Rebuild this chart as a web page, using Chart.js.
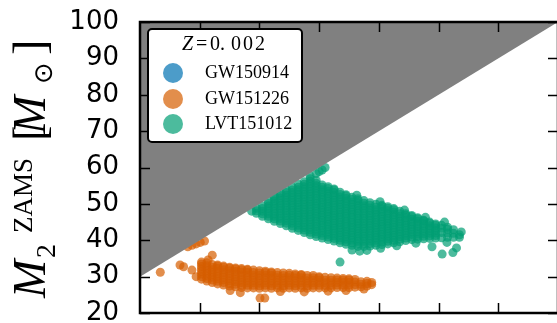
<!DOCTYPE html>
<html>
<head>
<meta charset="utf-8">
<script src="https://cdn.jsdelivr.net/npm/chart.js@4.4.1/dist/chart.umd.min.js"></script>
<style>
  html, body { margin: 0; padding: 0; background: #fff; overflow: hidden; }
</style>
</head>
<body>
<canvas id="massChart" width="562" height="323"></canvas>
<script>
// M2 (ZAMS) vs M1 (ZAMS) for the three events at Z = 0.002

const xRange = [30, 100];
const yRange = [20, 100];
const xTicks = [40, 50, 60, 70, 80, 90];
const yTicks = [20, 30, 40, 50, 60, 70, 80, 90, 100];

const seriesLabels = ['GW150914', 'GW151226', 'LVT151012'];
const seriesColors = ['rgba(0,114,178,0.7)', 'rgba(213,94,0,0.7)', 'rgba(0,158,115,0.7)'];

// M2 > M1 is excluded: shaded above the line M2 = M1
const equalMassLine = [[30, 30], [100, 100]];

// no samples for GW150914 at this metallicity
const gw150914 = [];

// GW151226 samples, one column per M1 value: [M1, [M2, ...]]
const gw151226Columns = [
  [40.3, [29.3, 30.0, 30.7, 31.4, 32.1, 32.8, 33.5, 34.0]],
  [41.2, [28.8, 29.5, 30.2, 30.9, 31.6, 32.3, 33.0, 33.8]],
  [42.1, [28.4, 29.1, 29.8, 30.5, 31.2, 31.9, 32.6, 33.3]],
  [43.0, [28.0, 28.7, 29.4, 30.1, 30.8, 31.5, 32.2, 32.9, 33.2]],
  [44.0, [27.7, 28.4, 29.1, 29.8, 30.5, 31.2, 31.9, 32.6, 32.9]],
  [45.0, [27.4, 28.1, 28.8, 29.5, 30.2, 30.9, 31.6, 32.3, 32.6]],
  [46.0, [27.2, 27.9, 28.6, 29.3, 30.0, 30.7, 31.4, 32.1, 32.4]],
  [47.0, [27.0, 27.7, 28.4, 29.1, 29.8, 30.5, 31.2, 31.9, 32.2]],
  [48.0, [26.9, 27.6, 28.3, 29.0, 29.7, 30.4, 31.1, 31.8, 32.0]],
  [49.0, [26.9, 27.6, 28.3, 29.0, 29.7, 30.4, 31.1, 31.8]],
  [50.0, [26.8, 27.5, 28.2, 28.9, 29.6, 30.3, 31.0, 31.6]],
  [51.0, [26.9, 27.6, 28.3, 29.0, 29.7, 30.4, 31.1, 31.5]],
  [52.0, [26.8, 27.5, 28.2, 28.9, 29.6, 30.3, 31.0, 31.3]],
  [53.0, [26.9, 27.6, 28.3, 29.0, 29.7, 30.4, 31.1]],
  [54.0, [26.8, 27.5, 28.2, 28.9, 29.6, 30.3, 31.0]],
  [55.0, [26.9, 27.6, 28.3, 29.0, 29.7, 30.4, 30.9]],
  [56.0, [26.8, 27.5, 28.2, 28.9, 29.6, 30.3, 30.7]],
  [57.0, [26.9, 27.6, 28.3, 29.0, 29.7, 30.4, 30.6]],
  [58.0, [26.8, 27.5, 28.2, 28.9, 29.6, 30.3]],
  [59.0, [26.9, 27.6, 28.3, 29.0, 29.7, 30.3]],
  [60.0, [26.9, 27.6, 28.3, 29.0, 29.7, 30.0]],
  [61.0, [26.9, 27.6, 28.3, 29.0, 29.8]],
  [62.0, [26.9, 27.6, 28.3, 29.0, 29.7]],
  [63.0, [27.0, 27.7, 28.4, 29.1, 29.6]],
  [64.0, [27.0, 27.7, 28.4, 29.1, 29.5]],
  [65.0, [27.0, 27.7, 28.4, 29.1, 29.4]],
  [66.0, [27.1, 27.8, 28.5, 29.2]],
  [67.0, [27.2, 27.9, 28.6]],
  [68.0, [27.4, 28.1, 28.7]],
  [68.8, [27.8, 28.4]]
];
const gw151226Extra = [
  [33.4, 31.2], [36.7, 33.2], [37.3, 32.7], [38.7, 31.8], [39.4, 30.0],
  [41.4, 34.6], [42.1, 35.9], [45.1, 26.2], [46.8, 25.6], [50.1, 24.1],
  [50.9, 24.1], [53.5, 25.9], [57.5, 25.8], [61.5, 26.0], [64.5, 26.2],
  [67.5, 26.6], [38.0, 38.2], [38.7, 38.6], [39.4, 39.0], [40.1, 39.4],
  [40.8, 39.8]
];

// LVT151012 samples, same layout
const lvt151012Columns = [
  [48.7, [48.0]],
  [49.5, [47.4, 48.1, 48.8]],
  [50.5, [46.6, 47.3, 48.0, 48.7, 49.4]],
  [51.5, [45.9, 46.6, 47.3, 48.0, 48.7, 49.4, 50.1, 50.8]],
  [52.5, [45.2, 45.9, 46.6, 47.3, 48.0, 48.7, 49.4, 50.1, 50.8, 51.5, 52.1]],
  [53.5, [44.6, 45.3, 46.0, 46.7, 47.4, 48.1, 48.8, 49.5, 50.2, 50.9, 51.6, 52.3, 53.0]],
  [54.5, [44.0, 44.7, 45.4, 46.1, 46.8, 47.5, 48.2, 48.9, 49.6, 50.3, 51.0, 51.7, 52.4, 53.1, 53.8]],
  [55.5, [43.3, 44.0, 44.7, 45.4, 46.1, 46.8, 47.5, 48.2, 48.9, 49.6, 50.3, 51.0, 51.7, 52.4, 53.1, 53.8, 54.6]],
  [56.5, [42.7, 43.4, 44.1, 44.8, 45.5, 46.2, 46.9, 47.6, 48.3, 49.0, 49.7, 50.4, 51.1, 51.8, 52.5, 53.2, 53.9, 54.6, 55.4]],
  [57.5, [42.1, 42.8, 43.5, 44.2, 44.9, 45.6, 46.3, 47.0, 47.7, 48.4, 49.1, 49.8, 50.5, 51.2, 51.9, 52.6, 53.3, 54.0, 54.7, 55.4, 56.1]],
  [58.5, [41.5, 42.2, 42.9, 43.6, 44.3, 45.0, 45.7, 46.4, 47.1, 47.8, 48.5, 49.2, 49.9, 50.6, 51.3, 52.0, 52.7, 53.4, 54.1, 54.8, 55.5, 56.2, 56.9, 57.6]],
  [59.5, [41.0, 41.7, 42.4, 43.1, 43.8, 44.5, 45.2, 45.9, 46.6, 47.3, 48.0, 48.7, 49.4, 50.1, 50.8, 51.5, 52.2, 52.9, 53.6, 54.3, 55.0, 55.7, 56.5, 58.3]],
  [60.0, [58.9]],
  [60.5, [40.6, 41.3, 42.0, 42.7, 43.4, 44.1, 44.8, 45.5, 46.2, 46.9, 47.6, 48.3, 49.0, 49.7, 50.4, 51.1, 51.8, 52.5, 53.2, 53.9, 54.6, 55.2, 59.3]],
  [61.0, [60.0]],
  [61.5, [40.2, 40.9, 41.6, 42.3, 43.0, 43.7, 44.4, 45.1, 45.8, 46.5, 47.2, 47.9, 48.6, 49.3, 50.0, 50.7, 51.4, 52.1, 52.8, 53.5, 54.2, 54.7]],
  [62.5, [39.8, 40.5, 41.2, 41.9, 42.6, 43.3, 44.0, 44.7, 45.4, 46.1, 46.8, 47.5, 48.2, 48.9, 49.6, 50.3, 51.0, 51.7, 52.4, 53.1, 53.8, 54.1]],
  [63.5, [39.3, 40.0, 40.7, 41.4, 42.1, 42.8, 43.5, 44.2, 44.9, 45.6, 46.3, 47.0, 47.7, 48.4, 49.1, 49.8, 50.5, 51.2, 51.9, 52.6, 53.2]],
  [64.5, [38.9, 39.6, 40.3, 41.0, 41.7, 42.4, 43.1, 43.8, 44.5, 45.2, 45.9, 46.6, 47.3, 48.0, 48.7, 49.4, 50.1, 50.8, 51.5, 52.2, 52.5]],
  [65.5, [38.6, 39.3, 40.0, 40.7, 41.4, 42.1, 42.8, 43.5, 44.2, 44.9, 45.6, 46.3, 47.0, 47.7, 48.4, 49.1, 49.8, 50.5, 51.2, 51.8]],
  [66.5, [38.3, 39.0, 39.7, 40.4, 41.1, 41.8, 42.5, 43.2, 43.9, 44.6, 45.3, 46.0, 46.7, 47.4, 48.1, 48.8, 49.5, 50.2, 50.9, 51.4]],
  [67.5, [38.3, 39.0, 39.7, 40.4, 41.1, 41.8, 42.5, 43.2, 43.9, 44.6, 45.3, 46.0, 46.7, 47.4, 48.1, 48.8, 49.5, 50.2, 50.9]],
  [68.5, [38.4, 39.1, 39.8, 40.5, 41.2, 41.9, 42.6, 43.3, 44.0, 44.7, 45.4, 46.1, 46.8, 47.5, 48.2, 48.9, 49.6, 50.3]],
  [69.5, [38.6, 39.3, 40.0, 40.7, 41.4, 42.1, 42.8, 43.5, 44.2, 44.9, 45.6, 46.3, 47.0, 47.7, 48.4, 49.1, 49.9]],
  [70.5, [38.8, 39.5, 40.2, 40.9, 41.6, 42.3, 43.0, 43.7, 44.4, 45.1, 45.8, 46.5, 47.2, 47.9, 48.6, 49.3, 49.6]],
  [71.5, [39.0, 39.7, 40.4, 41.1, 41.8, 42.5, 43.2, 43.9, 44.6, 45.3, 46.0, 46.7, 47.4, 48.1, 48.8, 49.2]],
  [72.5, [39.3, 40.0, 40.7, 41.4, 42.1, 42.8, 43.5, 44.2, 44.9, 45.6, 46.3, 47.0, 47.7, 48.4, 48.7]],
  [73.5, [39.6, 40.3, 41.0, 41.7, 42.4, 43.1, 43.8, 44.5, 45.2, 45.9, 46.6, 47.3, 48.0]],
  [74.5, [39.9, 40.6, 41.3, 42.0, 42.7, 43.4, 44.1, 44.8, 45.5, 46.2, 46.9, 47.3]],
  [75.5, [40.2, 40.9, 41.6, 42.3, 43.0, 43.7, 44.4, 45.1, 45.8, 46.5, 46.8]],
  [76.5, [40.3, 41.0, 41.7, 42.4, 43.1, 43.8, 44.5, 45.2, 45.9, 46.2]],
  [77.5, [40.4, 41.1, 41.8, 42.5, 43.2, 43.9, 44.6, 45.3, 45.5]],
  [78.5, [40.5, 41.2, 41.9, 42.6, 43.3, 44.0, 44.7, 45.0]],
  [79.5, [40.6, 41.3, 42.0, 42.7, 43.4, 44.1, 44.5]],
  [80.5, [40.7, 42.1, 43.3, 44.1]],
  [81.5, [40.8, 42.0, 43.0, 43.6]],
  [82.5, [40.8, 41.9, 42.9]],
  [83.5, [40.8, 41.5]]
];
const lvt151012Extra = [
  [63.5, 34.0], [65.5, 37.3], [66.8, 37.0], [68.0, 37.2], [70.3, 37.8],
  [73.0, 38.5], [76.2, 39.2], [78.9, 38.2], [80.6, 36.2], [82.4, 36.6],
  [83.0, 37.9], [81.4, 39.4], [66.3, 52.4], [70.2, 50.6], [74.3, 48.3],
  [77.8, 46.3], [81.0, 45.0], [83.8, 42.3]
];

function toPoints(columns, extra) {
  const pts = [];
  columns.forEach(([m1, m2s]) => m2s.forEach(m2 => pts.push({ x: m1, y: m2 })));
  extra.forEach(([m1, m2]) => pts.push({ x: m1, y: m2 }));
  return pts;
}

const SERIF = '"Liberation Serif", "DejaVu Serif", serif';

function drawYTitle(ctx) {
  ctx.save();
  ctx.translate(45, 298);
  ctx.rotate(-Math.PI / 2);
  ctx.fillStyle = '#000';
  ctx.textAlign = 'left';
  ctx.textBaseline = 'alphabetic';
  ctx.font = 'italic 46px ' + SERIF;
  ctx.fillText('M', 0, 0);
  ctx.font = '28px ' + SERIF;
  ctx.fillText('2', 40, 10);
  ctx.font = '27px ' + SERIF;
  ctx.fillText('ZAMS', 65, -13);
  ctx.font = '46px ' + SERIF;
  ctx.fillText('[', 157, 0);
  ctx.font = 'italic 46px ' + SERIF;
  ctx.fillText('M', 164, 0);
  ctx.font = '26px "DejaVu Sans"';
  ctx.textBaseline = 'middle';
  ctx.fillText('\u2299', 214, 0);
  ctx.textBaseline = 'alphabetic';
  ctx.font = '46px ' + SERIF;
  ctx.fillText(']', 243, 0);
  ctx.restore();
}

function drawLegend(ctx) {
  ctx.save();
  ctx.beginPath();
  ctx.roundRect(148, 29, 154, 113, 4);
  ctx.fillStyle = '#fff';
  ctx.fill();
  ctx.lineWidth = 2;
  ctx.strokeStyle = '#000';
  ctx.stroke();

  ctx.fillStyle = '#000';
  ctx.textBaseline = 'alphabetic';
  ctx.font = 'italic 20px ' + SERIF;
  ctx.fillText('Z', 182, 50);
  ctx.font = '20px ' + SERIF;
  ctx.fillText('=', 196, 50);
  ctx.fillText('0.', 210, 50);
  ctx.letterSpacing = '2px';
  ctx.fillText('002', 231, 50);
  ctx.letterSpacing = '0px';

  const rows = [73, 99, 124];
  seriesLabels.forEach((label, i) => {
    ctx.beginPath();
    ctx.arc(173, rows[i], 10, 0, Math.PI * 2);
    ctx.fillStyle = seriesColors[i];
    ctx.fill();
    ctx.fillStyle = '#000';
    ctx.font = '18px ' + SERIF;
    ctx.fillText(label, 205, rows[i] + 5);
  });
  ctx.restore();
}

const axesFrame = {
  id: 'axesFrame',
  afterDraw(chart) {
    const { ctx, chartArea: a, scales: { x, y } } = chart;
    ctx.save();
    ctx.strokeStyle = '#000';
    ctx.lineWidth = 1.5;
    ctx.beginPath();
    xTicks.forEach(v => {
      const px = Math.round(x.getPixelForValue(v)) + 0.5;
      ctx.moveTo(px, a.bottom); ctx.lineTo(px, a.bottom - 10);
      ctx.moveTo(px, a.top); ctx.lineTo(px, a.top + 10);
    });
    yTicks.forEach(v => {
      const py = Math.round(y.getPixelForValue(v)) + 0.5;
      ctx.moveTo(a.left, py); ctx.lineTo(a.left + 10, py);
      ctx.moveTo(a.right, py); ctx.lineTo(a.right - 10, py);
    });
    ctx.stroke();
    ctx.lineWidth = 2.5;
    ctx.strokeRect(a.left, a.top, a.right - a.left, a.bottom - a.top);
    ctx.restore();

    drawLegend(ctx);
    drawYTitle(ctx);
  }
};

const pointStyle = { pointRadius: 4.5, pointBorderWidth: 0, borderWidth: 0, pointHoverRadius: 4.5 };

new Chart(document.getElementById('massChart'), {
  type: 'scatter',
  data: {
    datasets: [
      {
        type: 'line',
        label: 'M2 > M1',
        data: equalMassLine.map(([a, b]) => ({ x: a, y: b })),
        fill: 'end',
        backgroundColor: '#808080',
        borderWidth: 0,
        pointRadius: 0,
        order: 0
      },
      Object.assign({ label: seriesLabels[0], data: gw150914, backgroundColor: seriesColors[0], order: 1 }, pointStyle),
      Object.assign({ label: seriesLabels[1], data: toPoints(gw151226Columns, gw151226Extra), backgroundColor: seriesColors[1], order: 2 }, pointStyle),
      Object.assign({ label: seriesLabels[2], data: toPoints(lvt151012Columns, lvt151012Extra), backgroundColor: seriesColors[2], order: 3 }, pointStyle)
    ]
  },
  options: {
    responsive: false,
    animation: false,
    devicePixelRatio: 1,
    layout: { autoPadding: false, padding: { left: 0, right: 4, top: 22, bottom: 10 } },
    plugins: { legend: { display: false }, tooltip: { enabled: false } },
    scales: {
      x: {
        type: 'linear',
        min: xRange[0],
        max: xRange[1],
        display: false,
        afterFit: scale => { scale.height = 0; }
      },
      y: {
        type: 'linear',
        min: yRange[0],
        max: yRange[1],
        afterFit: scale => {
          scale.width = 140;
          scale.paddingTop = 0;
          scale.paddingBottom = 0;
        },
        grid: { display: false },
        border: { display: false },
        ticks: {
          stepSize: 10,
          autoSkip: false,
          padding: 13,
          color: '#000',
          font: { family: 'DejaVu Sans', size: 26 }
        }
      }
    }
  },
  plugins: [axesFrame]
});
</script>
</body>
</html>
